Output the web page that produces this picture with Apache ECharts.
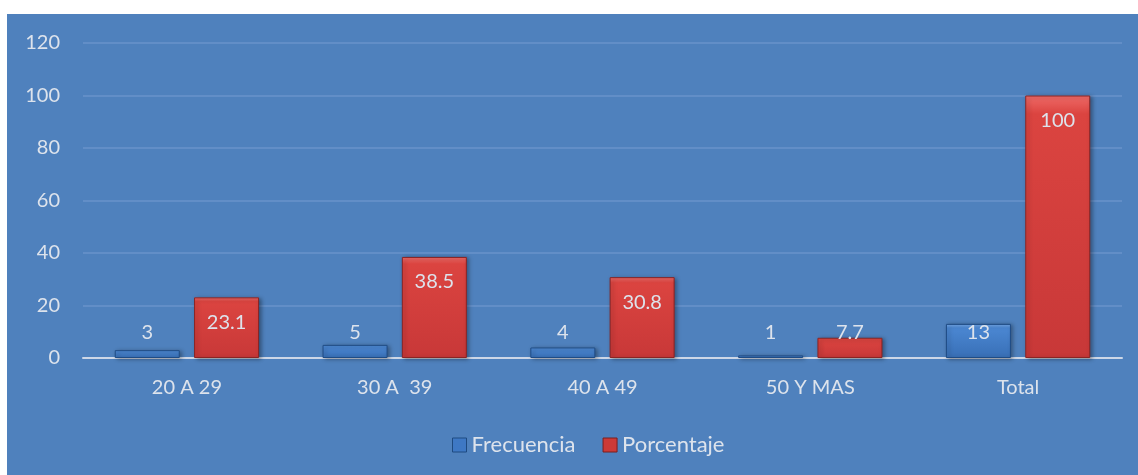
<!DOCTYPE html>
<html>
<head>
<meta charset="utf-8">
<script src="https://cdn.jsdelivr.net/npm/echarts@6/dist/echarts.min.js"></script>
<style>
  html, body { margin: 0; padding: 0; background: #ffffff; }
  #chart { position: absolute; left: 7px; top: 14px; width: 1131px; height: 461px; background: #4F81BD; }
</style>
</head>
<body>
<div id="chart"></div>
<script>
// Age groups and their counts / percentages
const categories = ['20 A 29', '30 A  39', '40 A 49', '50 Y MAS', 'Total'];
const frecuencia = [3, 5, 4, 1, 13];
const porcentaje = [23.1, 38.5, 30.8, 7.7, 100];
const yTicks = { min: 0, max: 120, interval: 20 };

const textColor = '#DDE3EC';
const fontFamily = 'Lato, "Open Sans", sans-serif';

const blueFill = {
  type: 'linear', x: 0, y: 0, x2: 0, y2: 1,
  colorStops: [
    { offset: 0, color: '#7AAEEE' },
    { offset: 0.12, color: '#4B87D2' },
    { offset: 1, color: '#386FB6' }
  ]
};
const redFill = {
  type: 'linear', x: 0, y: 0, x2: 0, y2: 1,
  colorStops: [
    { offset: 0, color: '#F06B68' },
    { offset: 0.07, color: '#DB4440' },
    { offset: 1, color: '#C83838' }
  ]
};

// Red labels sit inside the top of the bar unless the bar is too short to hold them
const porcentajeData = porcentaje.map(v => ({
  value: v,
  label: v < 15 ? { position: 'insideBottom', distance: 15 } : { position: 'insideTop', distance: 15 }
}));

const chart = echarts.init(document.getElementById('chart'), null, { renderer: 'canvas' });
chart.setOption({
  backgroundColor: '#4F81BD',
  animation: false,
  textStyle: { fontFamily: fontFamily },
  grid: { left: 76, right: 16, top: 29, bottom: 117 },
  legend: {
    top: 415,
    left: 440,
    itemWidth: 14,
    itemHeight: 14,
    itemGap: 27,
    textStyle: { color: textColor, fontSize: 22, fontFamily: fontFamily },
    data: [
      { name: 'Frecuencia', icon: 'rect', itemStyle: { color: '#3E78C4', borderColor: '#1E4A80', borderWidth: 1 } },
      { name: 'Porcentaje', icon: 'rect', itemStyle: { color: '#CC3A37', borderColor: '#7A1E1E', borderWidth: 1 } }
    ]
  },
  xAxis: {
    type: 'category',
    data: categories,
    axisLine: { lineStyle: { color: '#CDD7E7', width: 2 } },
    axisTick: { show: false },
    axisLabel: { color: textColor, fontSize: 20, margin: 20, fontFamily: fontFamily }
  },
  yAxis: {
    type: 'value',
    min: yTicks.min,
    max: yTicks.max,
    interval: yTicks.interval,
    axisLine: { show: false },
    axisTick: { show: false },
    axisLabel: { color: textColor, fontSize: 20, margin: 23, fontFamily: fontFamily },
    splitLine: { lineStyle: { color: '#6993CB', width: 1.5 } }
  },
  series: [
    {
      name: 'Frecuencia',
      type: 'bar',
      data: frecuencia,
      barWidth: 65,
      barGap: '22%',
      itemStyle: {
        color: blueFill,
        borderColor: '#1F4C85',
        borderWidth: 1,
        shadowColor: 'rgba(0,0,0,0.35)',
        shadowBlur: 4,
        shadowOffsetX: 2,
        shadowOffsetY: 1
      },
      label: {
        show: true,
        position: 'insideBottom',
        distance: 15,
        color: textColor,
        fontSize: 20,
        fontFamily: fontFamily
      }
    },
    {
      name: 'Porcentaje',
      type: 'bar',
      data: porcentajeData,
      barWidth: 65,
      itemStyle: {
        color: redFill,
        borderColor: '#8A2424',
        borderWidth: 1,
        shadowColor: 'rgba(0,0,0,0.35)',
        shadowBlur: 4,
        shadowOffsetX: 2,
        shadowOffsetY: 1
      },
      label: {
        show: true,
        color: textColor,
        fontSize: 20,
        fontFamily: fontFamily
      }
    }
  ]
});
</script>
</body>
</html>
